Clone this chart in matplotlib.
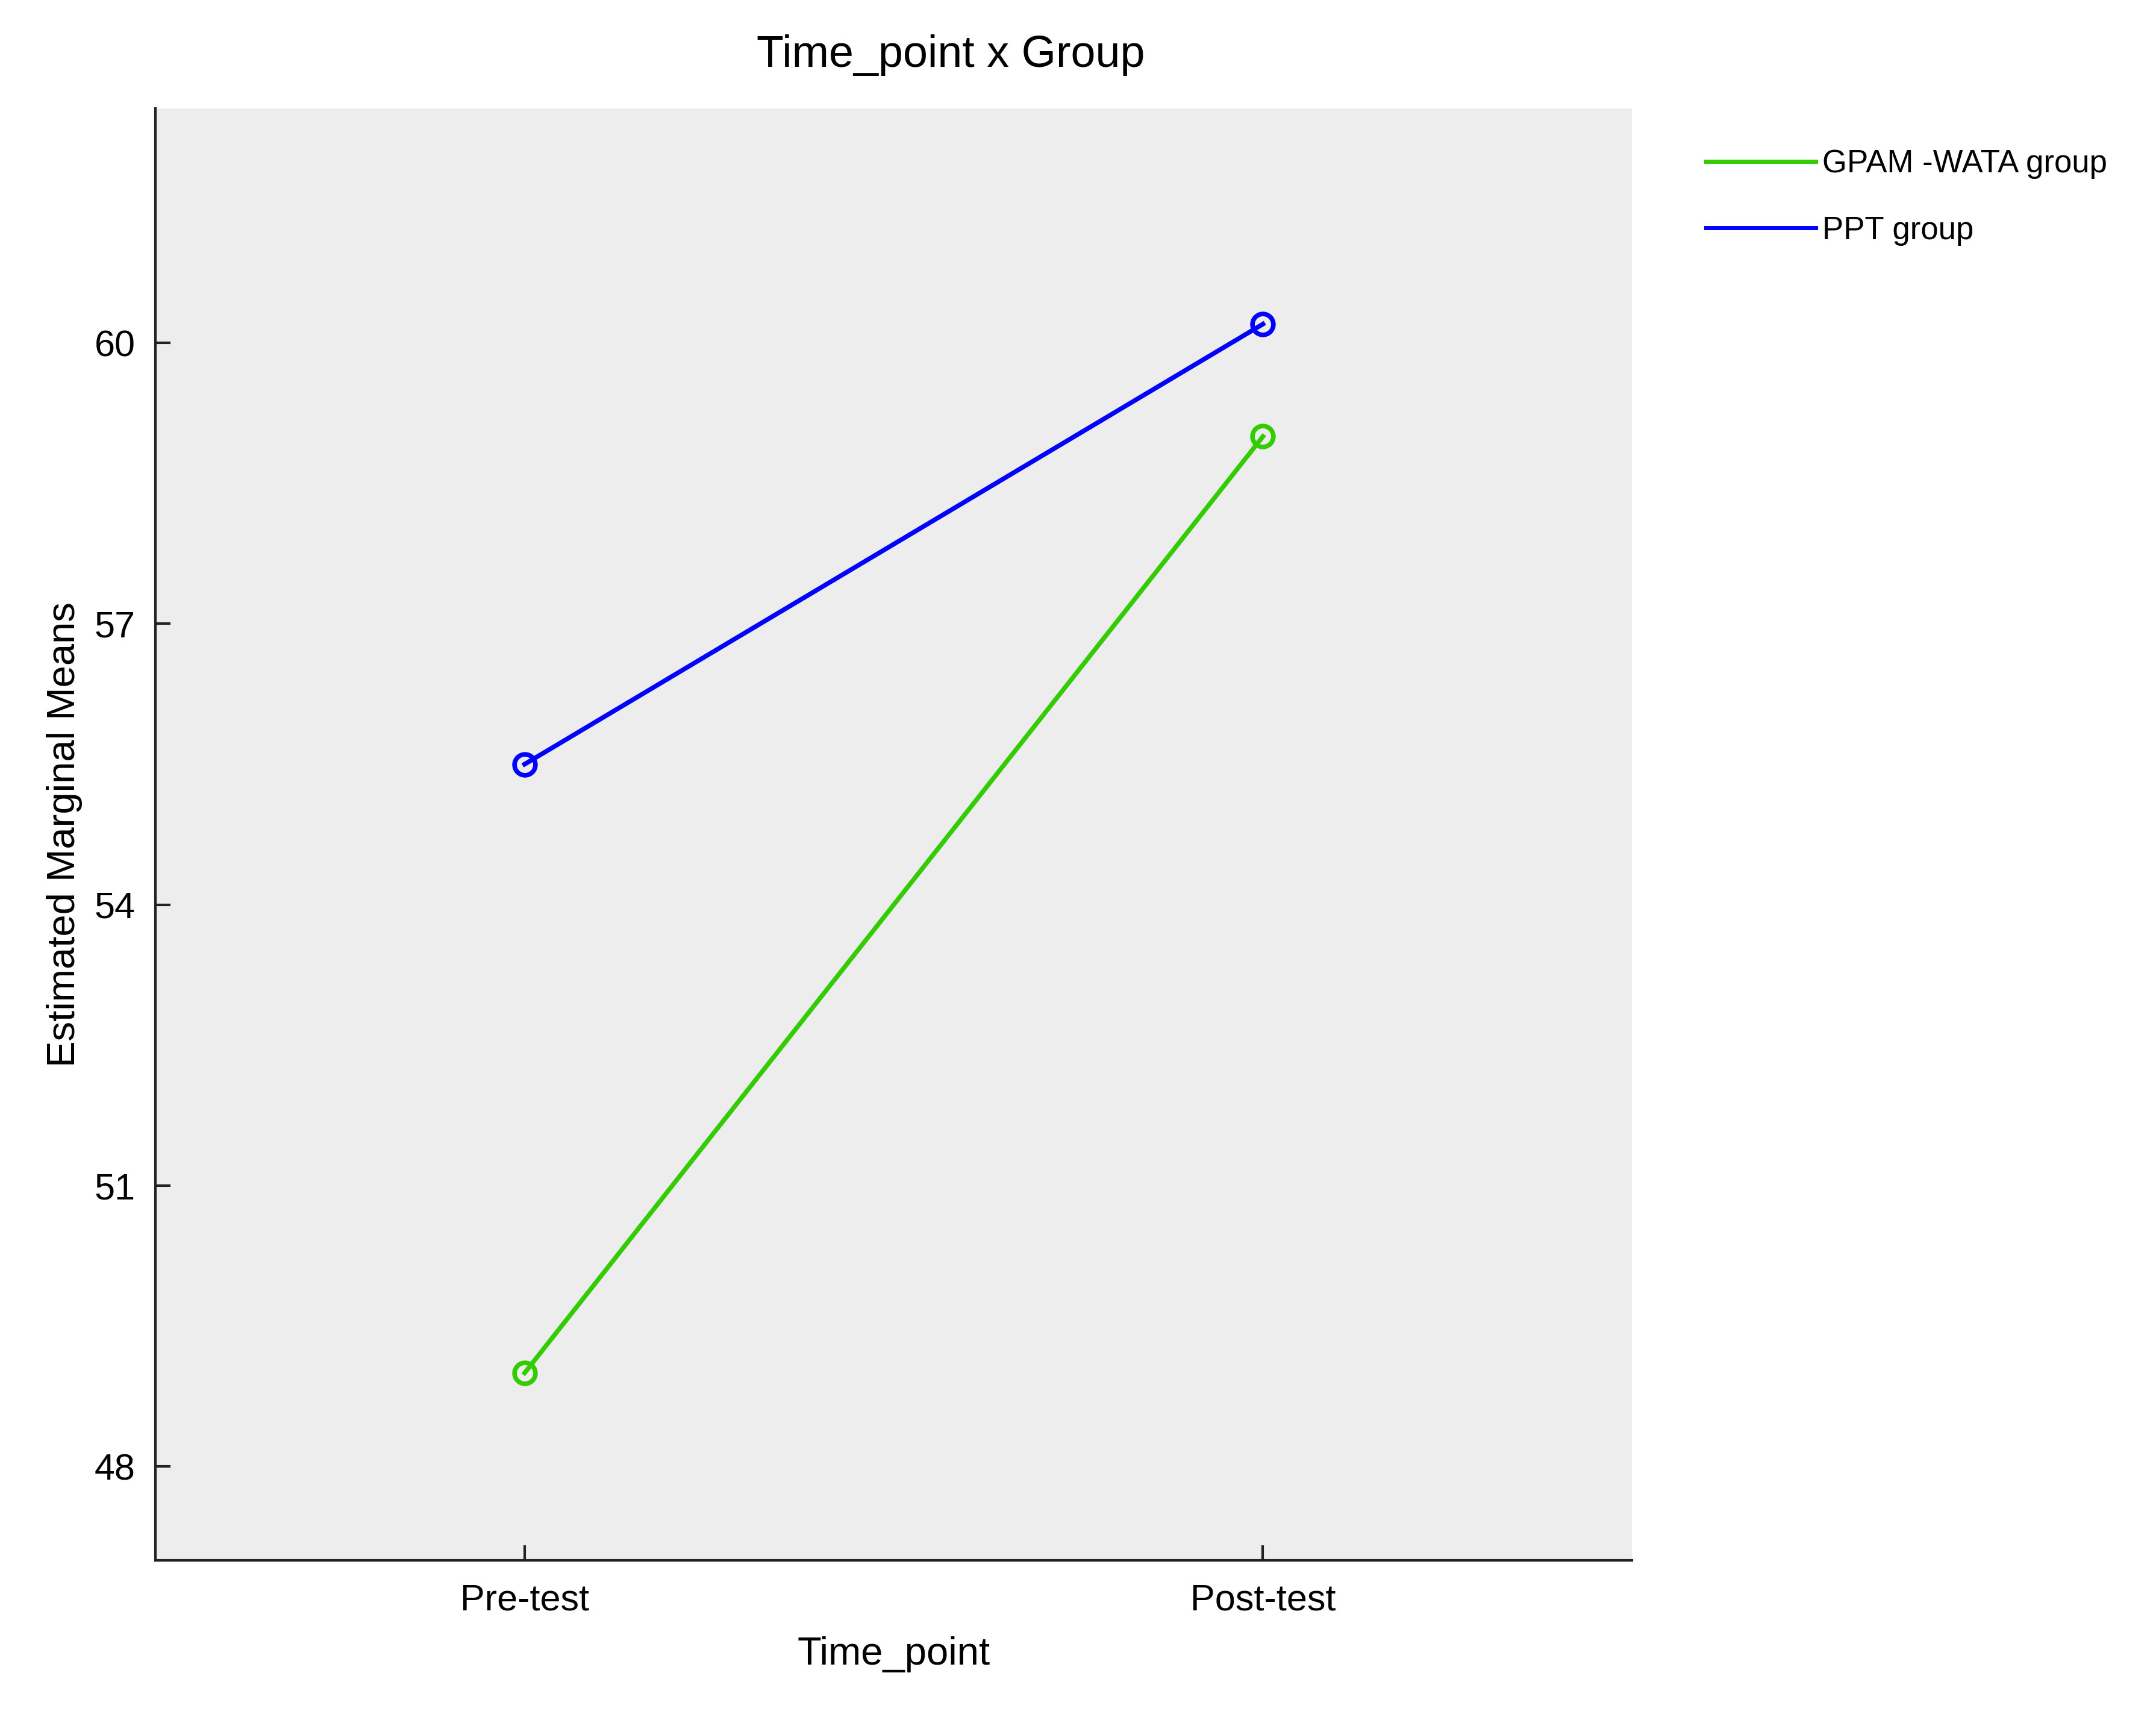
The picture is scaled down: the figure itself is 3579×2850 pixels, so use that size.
import matplotlib
matplotlib.use("Agg")
import matplotlib.pyplot as plt

time_points = ["Pre-test", "Post-test"]
groups = ["GPAM -WATA group", "PPT group"]
gpam_means = [49.0, 59.0]
ppt_means = [55.5, 60.2]
colors = ["#33cc00", "#0000ff"]
y_ticks = [48, 51, 54, 57, 60]

plt.rcParams['font.family'] = ['Liberation Sans', 'DejaVu Sans']

fig = plt.figure(figsize=(35.79, 28.5), dpi=100)
ax = fig.add_axes([0.0721, 0.0913, 0.6849, 0.8454])
ax.set_facecolor("#ededed")

x = list(range(len(time_points)))
for vals, col, lab in zip([gpam_means, ppt_means], colors, groups):
    ax.plot(x, vals, color=col, lw=5.5, marker='o', markersize=25,
            markerfacecolor='none', markeredgecolor=col, markeredgewidth=5.5, label=lab)

ax.set_xlim(-0.5, 1.5)
ax.set_ylim(47.0, 62.5)
ax.set_xticks(x)
ax.set_xticklabels(time_points)
ax.set_yticks(y_ticks)
ax.tick_params(axis='both', direction='in', length=18, width=3, labelsize=44, color='#222222')
ax.tick_params(axis='y', pad=24)
ax.tick_params(axis='x', pad=28)
for s in ['top', 'right']:
    ax.spines[s].set_visible(False)
for s in ['left', 'bottom']:
    ax.spines[s].set_linewidth(3)
    ax.spines[s].set_color('#222222')

ax.set_xlabel("Time_point", fontsize=47, labelpad=22)
ax.set_ylabel("Estimated Marginal Means", fontsize=47, labelpad=14)
fig.text(0.441, 0.968, "Time_point x Group", fontsize=53, ha='center', va='center')

handles = [plt.Line2D([0], [0], color=c, lw=5) for c in colors]
fig.legend(handles, groups, loc='upper left', bbox_to_anchor=(0.778, 0.930), frameon=False,
           fontsize=38, handlelength=3.45, handletextpad=0.2, labelspacing=1.15)

fig.savefig("out.png", dpi=100)
